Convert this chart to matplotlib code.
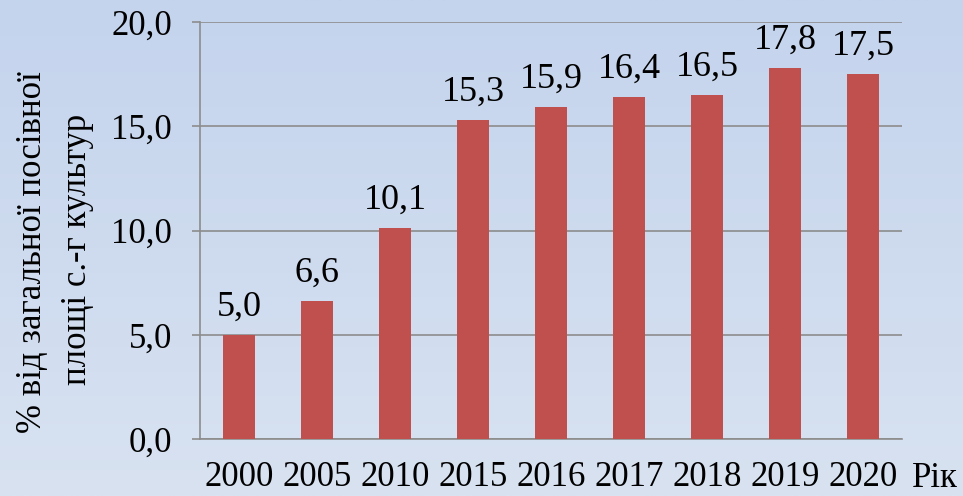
import matplotlib
matplotlib.use("Agg")
import matplotlib.pyplot as plt
import numpy as np

years = ["2000", "2005", "2010", "2015", "2016", "2017", "2018", "2019", "2020"]
values = [5.0, 6.6, 10.1, 15.3, 15.9, 16.4, 16.5, 17.8, 17.5]
yticks = [0, 5, 10, 15, 20]
ylabel_lines = ["% від загальної посівної", "площі с.-г культур"]
xlabel = "Рік"

FAM = 'Liberation Serif'
plt.rcParams['font.family'] = FAM

fig = plt.figure(figsize=(9.63, 4.96), dpi=100)

# gradient background
bg = fig.add_axes([0, 0, 1, 1], zorder=-10)
top = np.array([196, 212, 237]) / 255
bot = np.array([216, 226, 241]) / 255
t = np.linspace(0, 1, 256)[:, None]
grad = top[None, :] * (1 - t) + bot[None, :] * t
bg.imshow(grad[:, None, :].repeat(2, axis=1), aspect='auto', extent=[0, 1, 0, 1])
bg.axis('off')

ax = fig.add_axes([200/963, 1 - 439/496, 702/963, 417/496])
ax.patch.set_alpha(0)
x = np.arange(len(years))
ax.bar(x, values, width=0.41, color='#c0504d', zorder=3)
ax.set_xlim(-0.5, len(years) - 0.5)
ax.set_ylim(0, 20)
ax.set_yticks(yticks)
ax.set_yticklabels([f"{v:.1f}".replace('.', ',') for v in yticks], fontsize=25, family=FAM)
ax.set_xticks(x)
ax.set_xticklabels(years, fontsize=25, family=FAM)
ax.tick_params(axis='y', length=6, color='#8c8c8c', width=1.2, pad=14)
ax.tick_params(axis='x', length=0, pad=16)
ax.yaxis.grid(True, color='#8c8c8c', linewidth=1.2, zorder=0)
for s in ['top', 'right']:
    ax.spines[s].set_visible(False)
for s in ['left', 'bottom']:
    ax.spines[s].set_color('#8c8c8c')
    ax.spines[s].set_linewidth(1.2)

for xi, v in zip(x, values):
    ax.annotate(f"{v:.1f}".replace('.', ','), (xi, v), xytext=(0, 14),
                textcoords='offset points', ha='center', va='baseline',
                fontsize=26, family=FAM)

fig.text(935/963, 1 - 487/496, xlabel, fontsize=25, ha='center', va='baseline', family=FAM)
fig.text(33/963, 1 - 252/496, ylabel_lines[0], fontsize=25, rotation=90,
         ha='center', va='center', family=FAM)
fig.text(77/963, 1 - 249/496, ylabel_lines[1], fontsize=25, rotation=90,
         ha='center', va='center', family=FAM)

fig.savefig("out.png", dpi=100)
